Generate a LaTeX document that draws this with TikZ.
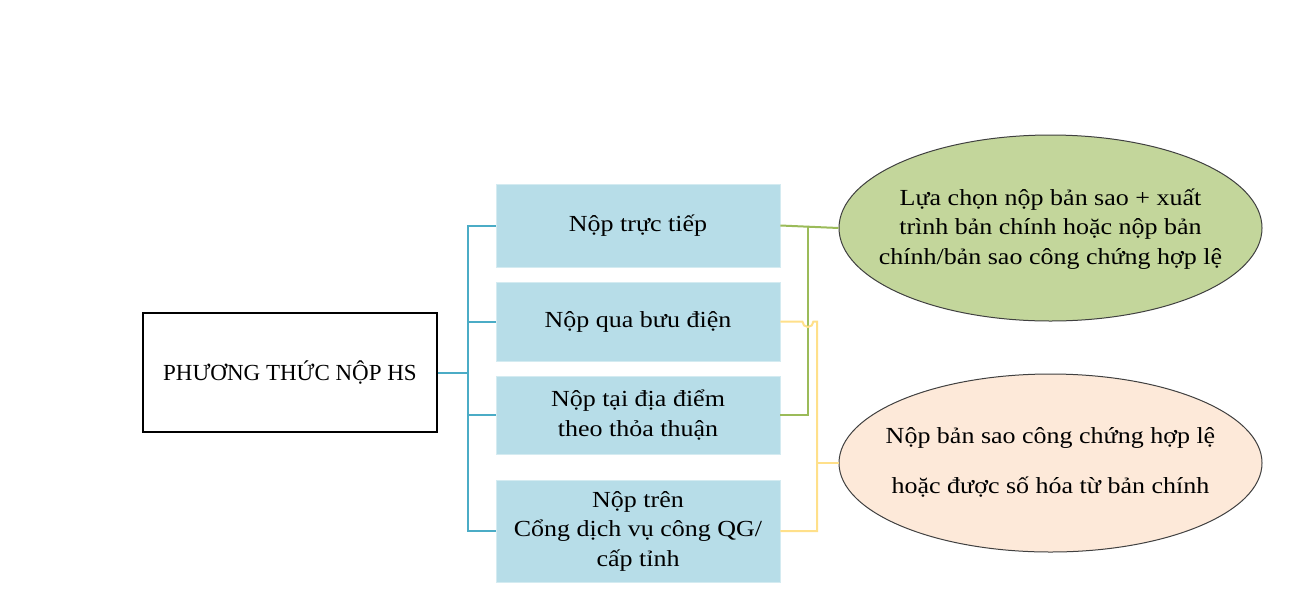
\documentclass[tikz,border=0pt]{standalone}
\usepackage{fontspec}
\setmainfont{Liberation Serif}
\newfontfamily\widefont[FakeStretch=1.13]{Liberation Serif}
\usetikzlibrary{shapes.geometric}
\definecolor{boxblue}{HTML}{B7DDE8}
\definecolor{lineblue}{HTML}{4BACC6}
\definecolor{ellgreen}{HTML}{C3D69B}
\definecolor{linegreen}{HTML}{9BBB59}
\definecolor{lineyellow}{HTML}{FFE08A}
\definecolor{ellorange}{HTML}{FDE9D9}
\begin{document}
\begin{tikzpicture}[x=1pt,y=-1pt,
  txt/.style={font=\widefont\fontsize{23}{29.5}\selectfont, align=center, text=black},
  rootbox/.style={font=\fontsize{23}{29.5}\selectfont, align=center, draw=black, line width=1.1pt, fill=white, minimum width=294pt, minimum height=119pt, inner sep=0pt},
  bluebox/.style={txt, fill=boxblue, draw=boxblue!60!white, line width=0.8pt, minimum width=284pt, inner sep=0pt},
  ell/.style={ellipse, draw=black!75, line width=1pt, minimum width=423pt, inner sep=0pt},
  bline/.style={draw=lineblue, line width=2pt},
  gline/.style={draw=linegreen, line width=2pt},
  yline/.style={draw=lineyellow, line width=2pt}]
\useasboundingbox (0,0) rectangle (1316,614);
\fill[white] (0,0) rectangle (1316,614);

\node[rootbox] (root) at (290,372.5) {PHƯƠNG THỨC NỘP HS};

\node[bluebox, minimum height=83pt] (b1) at (638,225.5) {Nộp trực tiếp};
\node[bluebox, minimum height=79pt] (b2) at (638,321.5) {Nộp qua bưu điện};
\node[bluebox, minimum height=78pt] (b3) at (638,415) {Nộp tại địa điểm\\theo thỏa thuận};
\node[bluebox, minimum height=102pt] (b4) at (638,531) {Nộp trên\\Cổng dịch vụ công QG/\\cấp tỉnh};

\node[ell, fill=ellgreen, minimum height=186pt] (e1) at (1050.5,228) {};
\node[txt] (e1t) at ([yshift=-1pt]e1.center) {Lựa chọn nộp bản sao + xuất\\trình bản chính hoặc nộp bản\\chính/bản sao công chứng hợp lệ};
\node[ell, fill=ellorange, minimum height=178pt] (e2) at (1050.5,463) {};
\node[txt] (e2t) at ([yshift=1pt]e2.center) {Nộp bản sao công chứng hợp lệ\\[20.5pt]hoặc được số hóa từ bản chính};

% blue tree
\coordinate (tx) at (468,0);
\draw[bline] (root.east) -- (root.east -| tx);
\draw[bline] (b1.west) -- (b1.west -| tx) -- (b4.west -| tx) -- (b4.west);
\draw[bline] (b2.west) -- (b2.west -| tx);
\draw[bline] (b3.west) -- (b3.west -| tx);

% green connector
\coordinate (gx) at (807.5,0);
\draw[gline] (b1.east) -- (e1.west);
\draw[gline] (b1.east -| gx) -- (b3.east -| gx) -- (b3.east);

% yellow connector with hop over green line
\coordinate (yx) at (817,0);
\draw[yline] (b2.east) -- ++(22,0) arc[start angle=180, end angle=0, radius=5.5] -- (b2.east -| yx) -- (b4.east -| yx) -- (b4.east);
\draw[yline] (e2.west -| yx) -- (e2.west);
\end{tikzpicture}
\end{document}
